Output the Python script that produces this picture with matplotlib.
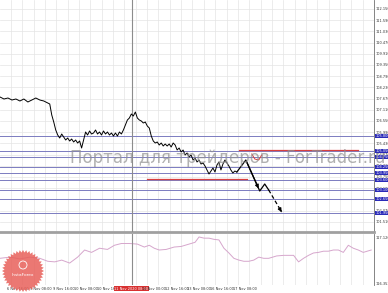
import numpy as np
import matplotlib
matplotlib.use("Agg")
import matplotlib.pyplot as plt
from matplotlib.patches import Polygon, Circle

W, H = 388, 293

# ---------------- data ----------------
price_x = [0, 4, 8, 12, 16, 20, 24, 28, 32, 36, 40, 44, 48, 50, 52, 54, 56, 58, 60, 62, 64, 66, 68, 70,
           72, 74, 76, 78, 80, 82, 84, 86, 88, 90, 92, 94, 96, 98, 100, 102, 104, 106, 108, 110, 112, 114,
           116, 118, 120, 122, 124, 126, 128, 130, 132, 134, 136, 138, 140, 142, 144, 146, 148, 150, 152,
           154, 156, 158, 160, 162, 164, 166, 168, 170, 172, 174, 176, 178, 180, 182, 184, 186, 188, 190,
           192, 194, 196, 198, 200, 202, 204, 206, 208, 210, 212, 214, 216, 218, 220, 222, 224, 226, 228,
           230, 232, 234, 236, 238]
price_y = [107.75, 107.65, 107.70, 107.60, 107.65, 107.55, 107.65, 107.50, 107.60, 107.70, 107.60, 107.55,
           107.45, 107.40, 106.85, 106.50, 106.10, 105.85, 105.70, 105.90, 105.75, 105.60, 105.70, 105.55,
           105.65, 105.50, 105.60, 105.45, 105.55, 105.20, 105.60, 106.00, 105.85, 106.05, 105.90, 105.95,
           106.10, 105.90, 106.00, 105.85, 106.05, 105.90, 106.00, 105.85, 105.95, 105.80, 105.95, 105.80,
           106.00, 105.90, 106.10, 106.35, 106.60, 106.70, 106.90, 106.80, 107.00, 106.70, 106.60, 106.55,
           106.45, 106.50, 106.30, 106.20, 105.80, 105.55, 105.45, 105.50, 105.35, 105.45, 105.30, 105.40,
           105.30, 105.40, 105.25, 105.45, 105.35, 105.10, 105.20, 105.00, 105.10, 104.85, 104.95, 104.75,
           104.85, 104.60, 104.70, 104.50, 104.60, 104.40, 104.45, 104.30, 104.10, 103.90, 104.05, 104.20,
           104.00, 104.35, 104.50, 104.10, 104.40, 104.60, 104.45, 104.30, 104.10, 103.95, 104.05, 104.00]

forecast_x = [238, 247, 261, 266, 270]
forecast_y = [104.00, 104.60, 103.05, 103.40, 103.10]
forecast_dash_x = [270, 283]
forecast_dash_y = [103.10, 102.00]
red_curve_x = [253, 256, 260, 263]
red_curve_y = [104.90, 104.65, 104.60, 104.85]

level_prices = [105.80, 105.05, 104.75, 104.25, 103.95, 103.60, 103.10, 102.65, 101.95]
level_labels = ["105.800", "105.050", "104.750", "104.250", "103.950", "103.600", "103.100", "102.650", "101.950"]

red_lines = [(105.10, 240, 360), (103.65, 148, 248)]

ind_x = [0, 10, 20, 30, 40, 48, 55, 62, 70, 78, 85, 92, 100, 108, 115, 122, 130, 138, 145, 150, 155, 160,
         167, 175, 182, 190, 196, 200, 205, 210, 215, 220, 225, 230, 235, 240, 245, 250, 255, 260, 265,
         270, 278, 285, 290, 295, 300, 305, 310, 315, 320, 325, 330, 335, 340, 345, 350, 355, 360, 365, 373]
ind_y = [116.77, 116.79, 116.76, 116.79, 116.77, 116.72, 116.71, 116.74, 116.69, 116.79, 116.91, 116.87,
         116.94, 116.92, 116.99, 117.02, 117.02, 117.01, 116.96, 116.99, 116.94, 116.91, 116.92, 116.96,
         116.97, 117.01, 117.04, 117.13, 117.11, 117.11, 117.09, 117.08, 116.94, 116.86, 116.77, 116.74,
         116.72, 116.72, 116.74, 116.79, 116.77, 116.77, 116.81, 116.82, 116.82, 116.82, 116.71, 116.77,
         116.82, 116.86, 116.87, 116.89, 116.89, 116.91, 116.91, 116.87, 116.99, 116.94, 116.91, 116.87, 116.91]

x_label_pos = [18, 41, 64, 86, 109, 132, 155, 178, 200, 223, 246]
x_labels = ["6 Nov 16:00", "9 Nov 08:00", "9 Nov 16:00", "10 Nov 08:00", "10 Nov 16:00",
            "11 Nov 2020 08:00", "12 Nov 00:00", "12 Nov 16:00", "13 Nov 08:00", "16 Nov 16:00", "17 Nov 08:00"]

price_ticks = [112.15 - 0.56 * k for k in range(20)]
marker_x = 133

# ---------------- figure ----------------
fig = plt.figure(figsize=(W / 100, H / 100), dpi=100)
fig.patch.set_facecolor("white")

def fy(py):
    return 1 - py / H

ax = fig.add_axes([0, fy(232), 374 / W, 232 / H])
axi = fig.add_axes([0, fy(285), 374 / W, (285 - 234) / H])

grid_x = [11 + 11.4 * k for k in range(33)]

for a in (ax, axi):
    a.set_xlim(0, 374)
    a.set_xticks(grid_x, minor=True)
    a.grid(True, which="minor", axis="x", color="#e4e4e4", lw=0.5)
    a.tick_params(which="both", length=0, labelsize=2.5, pad=1.2, colors="#333333")
    for s in ("top", "left"):
        a.spines[s].set_visible(False)
    a.spines["right"].set_color("#707070")
    a.spines["right"].set_linewidth(0.6)
    a.yaxis.tick_right()
    a.set_facecolor("white")

# main panel
ax.set_ylim(101.00, 112.60)
ax.set_yticks(price_ticks)
ax.set_yticklabels([f"{v:.3f}" for v in price_ticks])
ax.grid(True, which="major", axis="y", color="#e4e4e4", lw=0.5)
ax.set_xticks([])
ax.spines["bottom"].set_color("#a0a0a0")
ax.spines["bottom"].set_linewidth(2.0)

for p in level_prices:
    ax.axhline(p, color="#7b7bc0", lw=0.7, zorder=2)
for p, x0, x1 in red_lines:
    ax.plot([x0, x1], [p, p], color="#d84040", lw=0.9, zorder=3)

ax.plot(price_x, price_y, color="black", lw=0.7, zorder=4)
ax.plot(forecast_x, forecast_y, color="black", lw=0.9, zorder=4)
ax.annotate("", xy=(forecast_x[2], forecast_y[2]), xytext=(forecast_x[1], forecast_y[1]),
            arrowprops=dict(arrowstyle="-|>", color="black", lw=0.9, mutation_scale=5), zorder=5)
ax.plot(forecast_dash_x, forecast_dash_y, color="black", lw=0.9, ls=(0, (3, 2)), zorder=4)
ax.annotate("", xy=(forecast_dash_x[1], forecast_dash_y[1]),
            xytext=(forecast_dash_x[1] - 2, forecast_dash_y[1] + 0.17),
            arrowprops=dict(arrowstyle="-|>", color="black", lw=0.9, mutation_scale=5), zorder=5)
ax.plot(red_curve_x, red_curve_y, color="#d84040", lw=0.7, zorder=4)

ax.axvline(marker_x, color="#8c8c8c", lw=0.8, zorder=3)
axi.axvline(marker_x, color="#8c8c8c", lw=0.8, zorder=3)

for p, lab in zip(level_prices, level_labels):
    ax.annotate(lab, xy=(1.003, p), xycoords=("axes fraction", "data"), fontsize=2.5, color="white",
                va="center", ha="left", annotation_clip=False,
                bbox=dict(boxstyle="square,pad=0.1", fc="#2a2ab8", ec="none"), zorder=6)

# indicator panel
axi.set_ylim(116.32, 117.18)
axi.set_yticks([116.353, 117.126])
axi.set_yticklabels(["116.353", "117.126"])
axi.plot(ind_x, ind_y, color="#d6a6cc", lw=0.7)
axi.set_xticks(x_label_pos)
axi.set_xticklabels(x_labels)
axi.spines["bottom"].set_visible(False)
for i, t in enumerate(axi.get_xticklabels()):
    if i == 5:
        t.set_color("white")
        t.set_bbox(dict(boxstyle="square,pad=0.2", fc="#d83030", ec="none"))

# overlay: watermark and logo
ov = fig.add_axes([0, 0, 1, 1], zorder=10)
ov.set_xlim(0, W)
ov.set_ylim(H, 0)
ov.axis("off")
ov.patch.set_alpha(0)
ov.text(70, 158, "Портал для трейдеров - ForTrader.ru", fontsize=12, color="#909090",
        alpha=0.7, va="center", ha="left", family="DejaVu Sans")

cx, cy = 23, 271
n = 40
ang = np.linspace(0, 2 * np.pi, 2 * n, endpoint=False)
rad = np.where(np.arange(2 * n) % 2 == 0, 21, 18.5)
ov.add_patch(Polygon(np.c_[cx + rad * np.cos(ang), cy + rad * np.sin(ang)], closed=True,
                     fc="#e8605a", ec="none", alpha=0.85))
ov.add_patch(Circle((cx, cy - 6), 4, fc="none", ec="white", lw=0.6))
ov.text(cx, cy + 4, "InstaForex", fontsize=3.2, color="white", ha="center", va="center")

fig.savefig("out.png", dpi=100, facecolor="white")
